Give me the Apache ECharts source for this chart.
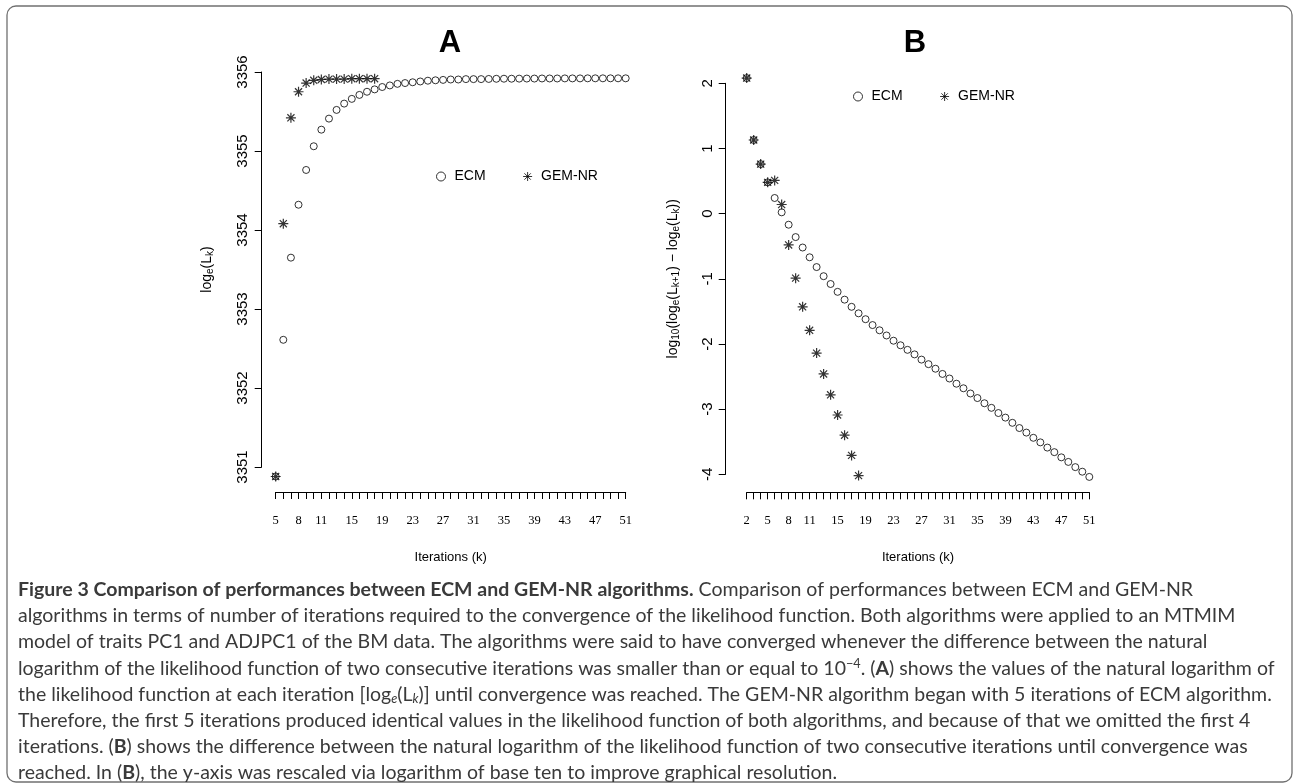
<!DOCTYPE html>
<html><head><meta charset="utf-8">
<script src="https://cdn.jsdelivr.net/npm/echarts@6/dist/echarts.min.js"></script>
<style>html,body{margin:0;padding:0;background:#fff}#c{width:1294px;height:784px}</style>
</head><body><div id="c"></div>
<script>
// ---------- data ----------
const iterA_ECM = [5,6,7,8,9,10,11,12,13,14,15,16,17,18,19,20,21,22,23,24,25,26,27,28,29,30,31,32,33,34,35,36,37,38,39,40,41,42,43,44,45,46,47,48,49,50,51];
const logLik_ECM = [3350.88,3352.61,3353.65,3354.32,3354.76,3355.06,3355.27,3355.41,3355.52,3355.60,3355.66,3355.71,3355.75,3355.78,3355.81,3355.83,3355.85,3355.86,3355.87,3355.88,3355.89,3355.895,3355.90,3355.905,3355.905,3355.91,3355.91,3355.91,3355.912,3355.914,3355.915,3355.915,3355.916,3355.917,3355.917,3355.918,3355.918,3355.918,3355.919,3355.919,3355.919,3355.92,3355.92,3355.92,3355.92,3355.92,3355.92];
const iterA_GEM = [5,6,7,8,9,10,11,12,13,14,15,16,17,18];
const logLik_GEM = [3350.88,3354.08,3355.42,3355.75,3355.86,3355.895,3355.905,3355.91,3355.91,3355.91,3355.915,3355.915,3355.915,3355.915];

const iterB_ECM = [2,3,4,5,6,7,8,9,10,11,12,13,14,15,16,17,18,19,20,21,22,23,24,25,26,27,28,29,30,31,32,33,34,35,36,37,38,39,40,41,42,43,44,45,46,47,48,49,50,51];
const logDiff_ECM = [2.08,1.13,0.76,0.48,0.24,0.02,-0.17,-0.36,-0.52,-0.67,-0.82,-0.96,-1.08,-1.20,-1.32,-1.43,-1.53,-1.62,-1.71,-1.79,-1.87,-1.95,-2.02,-2.09,-2.16,-2.24,-2.31,-2.38,-2.46,-2.53,-2.61,-2.68,-2.76,-2.83,-2.91,-2.98,-3.06,-3.13,-3.21,-3.29,-3.36,-3.44,-3.51,-3.59,-3.66,-3.74,-3.81,-3.89,-3.96,-4.04];
const iterB_GEM = [2,3,4,5,6,7,8,9,10,11,12,13,14,15,16,17,18];
const logDiff_GEM = [2.08,1.13,0.76,0.48,0.51,0.14,-0.48,-0.99,-1.43,-1.79,-2.14,-2.46,-2.78,-3.09,-3.40,-3.71,-4.02];

const tickLabelsA = [5,8,11,15,19,23,27,31,35,39,43,47,51];
const tickLabelsB = [2,5,8,11,15,19,23,27,31,35,39,43,47,51];
const yTicksA = [3351,3352,3353,3354,3355,3356];
const yTicksB = [-4,-3,-2,-1,0,1,2];

const seriesNames = ['ECM','GEM-NR'];

const captionLines = [
  [['b','Figure 3 Comparison of performances between ECM and GEM-NR algorithms.'],['n',' Comparison of performances between ECM and GEM-NR']],
  [['n','algorithms in terms of number of iterations required to the convergence of the likelihood function. Both algorithms were applied to an MTMIM']],
  [['n','model of traits PC1 and ADJPC1 of the BM data. The algorithms were said to have converged whenever the difference between the natural']],
  [['n','logarithm of the likelihood function of two consecutive iterations was smaller than or equal to 10'],['sup','\u22124'],['n','. ('],['b','A'],['n',') shows the values of the natural logarithm of']],
  [['n','the likelihood function at each iteration [log'],['subi','e'],['n','(L'],['subi','k'],['n',')] until convergence was reached. The GEM-NR algorithm began with 5 iterations of ECM algorithm.']],
  [['n','Therefore, the first 5 iterations produced identical values in the likelihood function of both algorithms, and because of that we omitted the first 4']],
  [['n','iterations. ('],['b','B'],['n',') shows the difference between the natural logarithm of the likelihood function of two consecutive iterations until convergence was']],
  [['n','reached. In ('],['b','B'],['n','), the y-axis was rescaled via logarithm of base ten to improve graphical resolution.']]
];

// ---------- helpers ----------
function zip(xs, ys){ return xs.map((x,i)=>[x, ys[i]]); }
function range(a,b){ const r=[]; for(let i=a;i<=b;i++) r.push(i); return r; }

const CAP_FONT = 'Lato';
const cv = document.createElement('canvas').getContext('2d');
function segFont(st, fs){
  if (st==='b') return 'bold '+fs+'px '+CAP_FONT;
  if (st==='sup'||st==='sub') return (fs*0.65)+'px '+CAP_FONT;
  if (st==='subi') return 'italic '+(fs*0.65)+'px '+CAP_FONT;
  return fs+'px '+CAP_FONT;
}
function measure(line, fs){
  let w=0; line.forEach(([st,t])=>{cv.font=segFont(st,fs); w+=cv.measureText(t).width;}); return w;
}
const capFs = 16 * 1258 / measure(captionLines[3], 16);

const capRich = {
  n:{fontFamily:CAP_FONT,fontSize:capFs,color:'#3a3a3a',lineHeight:22},
  b:{fontFamily:CAP_FONT,fontSize:capFs,fontWeight:'bold',color:'#000',lineHeight:22},
  sup:{fontFamily:CAP_FONT,fontSize:capFs*0.65,color:'#3a3a3a',lineHeight:12,verticalAlign:'top'},
  subi:{fontFamily:CAP_FONT,fontSize:capFs*0.65,fontStyle:'italic',color:'#3a3a3a',lineHeight:13,verticalAlign:'bottom'}
};

const STAR = 'path://M5 0L5 10M0 5L10 5M1.46 1.46L8.54 8.54M1.46 8.54L8.54 1.46';
const axisTxt = {fontFamily:'Liberation Sans', color:'#000'};
const nameRich = {
  a:{fontFamily:'Liberation Sans',fontSize:14,lineHeight:18,color:'#000'},
  s:{fontFamily:'Liberation Sans',fontSize:10,lineHeight:13,color:'#000',verticalAlign:'bottom'}
};
const hollow = {color:'rgba(0,0,0,0)',borderColor:'#000',borderWidth:1};
const starStyle = {color:'rgba(0,0,0,0)',borderColor:'#000',borderWidth:1.2};

function xAxisCfg(grid, min, max, off, labels){
  return {gridIndex:grid, type:'value', min:min, max:max, interval:1, offset:off,
    axisLine:{show:true,onZero:false,lineStyle:{color:'#000',width:1}},
    axisTick:{show:true,length:7,lineStyle:{color:'#000',width:1},customValues:range(min,max)},
    axisLabel:{customValues:labels,margin:22,fontFamily:'Liberation Serif',fontSize:12.5,color:'#000',formatter:v=>String(v)},
    splitLine:{show:false},
    name:'Iterations (k)', nameLocation:'middle', nameGap:59,
    nameTextStyle:{fontFamily:'Liberation Sans Narrow, Liberation Sans',fontSize:13,color:'#000'}};
}
function yAxisCfg(grid, min, max, off, ticks, name, gap, margin){
  return {gridIndex:grid, type:'value', min:min, max:max, interval:1, offset:off,
    axisLine:{show:true,onZero:false,lineStyle:{color:'#000',width:1}},
    axisTick:{show:true,length:7,lineStyle:{color:'#000',width:1},customValues:ticks},
    axisLabel:{customValues:ticks,rotate:90,margin:margin,fontFamily:'Liberation Sans',fontSize:15,color:'#000',formatter:v=>String(v)},
    splitLine:{show:false},
    name:name, nameLocation:'middle', nameGap:gap,
    nameTextStyle:{rich:nameRich,fontFamily:'Liberation Sans',fontSize:14,color:'#000'}};
}
function sc(name, xi, xs, ys){
  const isStar = name==='GEM-NR';
  return {name:name, type:'scatter', xAxisIndex:xi, yAxisIndex:xi, data:zip(xs,ys),
    symbol:isStar?STAR:'circle', symbolSize:isStar?10:7, clip:false, silent:true,
    itemStyle:isStar?starStyle:hollow, emphasis:{disabled:true}};
}
function legendCfg(left, top){
  return {left:left, top:top, orient:'horizontal', padding:0, selectedMode:false,
    data:[{name:'ECM',icon:'circle'},{name:'GEM-NR',icon:STAR}],
    itemWidth:9, itemHeight:9, itemGap:37, itemStyle:hollow,
    textStyle:{fontFamily:'Liberation Sans',fontSize:14,color:'#000',padding:[0,0,0,4]}};
}

const graphics = [
  {type:'rect', shape:{x:7,y:6,width:1285,height:776,r:9}, style:{fill:'none',stroke:'#707070',lineWidth:1.3}, silent:true},
  {type:'text', x:450, y:43, style:{text:'A',align:'center',verticalAlign:'middle',font:'bold 31px Liberation Sans',fill:'#000'}},
  {type:'text', x:915, y:43, style:{text:'B',align:'center',verticalAlign:'middle',font:'bold 31px Liberation Sans',fill:'#000'}}
];
captionLines.forEach((line,i)=>{
  graphics.push({type:'text', x:18, y:590+26.1*i,
    style:{text:line.map(([st,t])=>'{'+st+'|'+t+'}').join(''), rich:capRich,
      font:capFs+'px '+CAP_FONT, align:'left', verticalAlign:'middle', fill:'#3a3a3a'}});
});

const chart = echarts.init(document.getElementById('c'), null, {renderer:'canvas'});
chart.setOption({
  animation:false,
  backgroundColor:'#fff',
  textStyle:axisTxt,
  grid:[
    {left:275.7, top:72, width:350, height:395},
    {left:746.7, top:83.3, width:342.6, height:391}
  ],
  xAxis:[ xAxisCfg(0,5,51,25,tickLabelsA), xAxisCfg(1,2,51,18,tickLabelsB) ],
  yAxis:[
    yAxisCfg(0,3351,3356,14,yTicksA,'{a|log}{s|e}{a|(L}{s|k}{a|)}',46,11),
    yAxisCfg(1,-4,2,21,yTicksB,'{a|log}{s|10}{a|(log}{s|e}{a|(L}{s|k+1}{a|) \u2212 log}{s|e}{a|(L}{s|k}{a|))}',44,10)
  ],
  legend:[ legendCfg(436,169.5), legendCfg(853,89.5) ],
  series:[
    sc('ECM',0,iterA_ECM,logLik_ECM),
    sc('GEM-NR',0,iterA_GEM,logLik_GEM),
    sc('ECM',1,iterB_ECM,logDiff_ECM),
    sc('GEM-NR',1,iterB_GEM,logDiff_GEM)
  ],
  graphic:graphics
});
</script></body></html>
